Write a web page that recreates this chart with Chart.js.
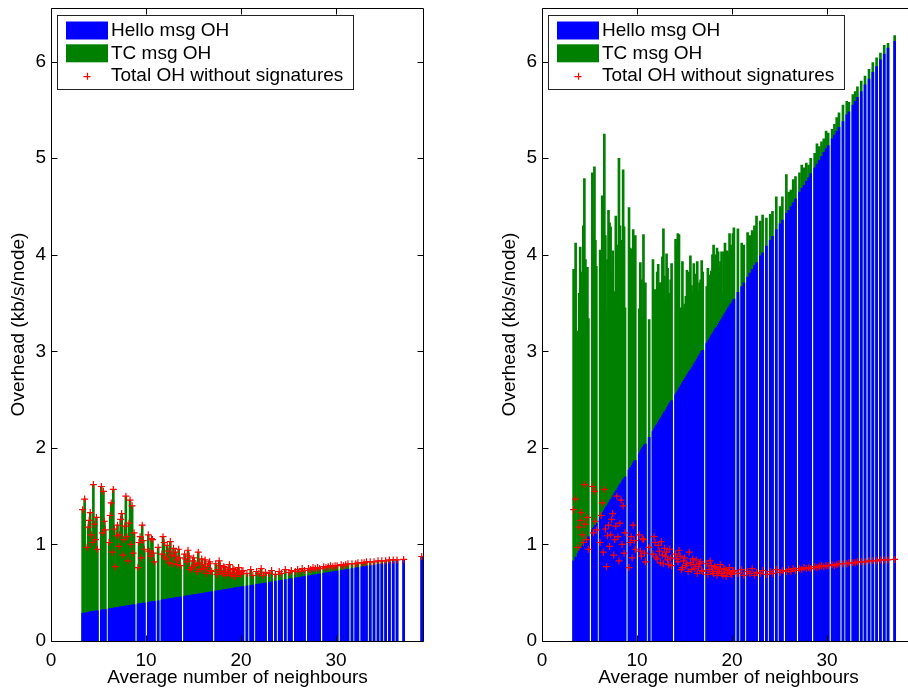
<!DOCTYPE html>
<html><head><meta charset="utf-8">
<script src="https://cdn.jsdelivr.net/npm/chart.js@4.4.1/dist/chart.umd.min.js"></script>
<style>
html,body{margin:0;padding:0;background:#fff;overflow:hidden;width:908px;height:689px;}
#wrap{position:relative;width:908px;height:689px;overflow:hidden;background:#fff;}
canvas{position:absolute;top:0;}
#c1{left:0;} #c2{left:491px;}
</style></head><body><div id="wrap"><canvas id="c1" width="440" height="689"></canvas><canvas id="c2" width="440" height="689"></canvas></div>
<script>
// Average number of neighbours for each simulation run (shared by both panels)
const neighbours = [3.33,3.54,3.80,3.91,4.02,4.13,4.24,4.35,4.46,4.57,
4.68,4.78,4.88,5.30,5.41,5.52,5.62,5.72,6.12,6.23,
6.34,6.45,6.56,6.67,6.78,6.89,7.00,7.11,7.22,7.33,
7.44,7.55,7.66,7.77,7.88,7.99,8.10,8.21,8.32,8.43,
8.54,8.64,8.74,9.16,9.27,9.38,9.49,9.60,9.71,9.82,
10.24,10.35,10.46,10.57,10.68,10.78,10.88,11.28,11.68,11.79,
11.90,12.01,12.12,12.23,12.34,12.45,12.56,12.67,12.78,12.89,
13.00,13.11,13.22,13.33,13.44,13.54,13.64,14.06,14.18,14.30,
14.42,14.54,14.66,14.78,14.90,15.02,15.14,15.26,15.38,15.50,
15.62,15.74,15.86,15.98,16.10,16.22,16.34,16.46,16.58,16.70,
16.81,16.92,17.34,17.46,17.58,17.70,17.82,17.94,18.06,18.18,
18.30,18.42,18.54,18.66,18.78,18.90,19.02,19.14,19.26,19.38,
19.50,19.62,19.74,19.86,19.98,20.09,20.20,20.62,21.02,21.24,
21.64,21.88,22.12,22.36,22.58,22.98,23.22,23.62,24.02,24.26,
24.66,25.06,25.30,25.72,25.96,26.20,26.44,26.68,27.10,27.34,
27.58,27.82,28.06,28.28,28.70,28.94,29.18,29.42,29.66,29.90,
30.12,30.54,30.78,31.02,31.26,31.68,32.08,32.30,32.72,32.96,
33.20,33.60,34.00,34.42,34.82,35.22,35.62,36.02,36.42,37.12,
39.02];

// Left panel: Hello msg OH without signatures (kb/s/node)
const helloNoSig = [0.287,0.291,0.295,0.297,0.299,0.301,0.302,0.304,0.306,0.308,
0.310,0.311,0.313,0.320,0.321,0.323,0.325,0.327,0.333,0.335,
0.337,0.338,0.340,0.342,0.344,0.346,0.347,0.349,0.351,0.353,
0.355,0.356,0.358,0.360,0.362,0.364,0.365,0.367,0.369,0.371,
0.373,0.374,0.376,0.383,0.385,0.386,0.388,0.390,0.392,0.394,
0.400,0.402,0.404,0.406,0.408,0.409,0.411,0.417,0.424,0.426,
0.428,0.429,0.431,0.433,0.435,0.437,0.438,0.440,0.442,0.444,
0.446,0.447,0.449,0.451,0.453,0.454,0.456,0.463,0.465,0.467,
0.469,0.471,0.473,0.475,0.477,0.479,0.481,0.483,0.484,0.486,
0.488,0.490,0.492,0.494,0.496,0.498,0.500,0.502,0.504,0.506,
0.508,0.510,0.517,0.518,0.520,0.522,0.524,0.526,0.528,0.530,
0.532,0.534,0.536,0.538,0.540,0.542,0.544,0.546,0.548,0.550,
0.552,0.554,0.556,0.558,0.560,0.561,0.563,0.570,0.577,0.580,
0.587,0.591,0.595,0.599,0.602,0.609,0.613,0.619,0.626,0.630,
0.636,0.643,0.647,0.654,0.657,0.661,0.665,0.669,0.676,0.680,
0.684,0.688,0.692,0.695,0.702,0.706,0.710,0.714,0.718,0.722,
0.725,0.732,0.736,0.740,0.744,0.751,0.757,0.761,0.768,0.772,
0.776,0.782,0.789,0.796,0.802,0.809,0.815,0.822,0.828,0.840,
0.865];

// Total OH without signatures = top of the green TC segment in the left panel (kb/s/node)
const totalNoSig = [1.36,1.47,0.97,1.18,1.25,1.33,1.10,1.02,1.62,1.21,
1.05,1.28,0.95,1.60,1.12,1.55,1.24,1.15,1.02,1.30,
1.43,0.92,1.57,1.16,0.77,1.09,1.20,0.98,1.10,1.26,
1.32,0.89,1.05,1.19,1.50,1.08,0.83,1.22,1.46,1.00,
1.40,0.91,1.12,0.76,1.02,1.08,0.86,1.20,1.04,0.95,
1.10,0.93,0.88,1.06,1.05,0.91,0.82,0.97,0.90,1.08,
1.02,0.87,0.85,0.99,0.93,0.81,1.03,0.89,0.80,0.96,
0.88,0.92,0.84,0.79,0.95,0.86,0.78,0.90,0.85,0.82,
0.94,0.88,0.74,0.76,0.83,0.86,0.78,0.80,0.72,0.92,
0.81,0.74,0.85,0.79,0.75,0.84,0.70,0.77,0.80,0.82,
0.73,0.72,0.80,0.69,0.74,0.83,0.78,0.72,0.70,0.77,
0.76,0.68,0.72,0.74,0.79,0.70,0.68,0.75,0.74,0.67,
0.71,0.73,0.76,0.70,0.69,0.72,0.73,0.70,0.74,0.68,
0.72,0.70,0.75,0.68,0.71,0.70,0.73,0.69,0.72,0.70,
0.74,0.71,0.73,0.72,0.74,0.72,0.75,0.73,0.75,0.74,
0.76,0.75,0.76,0.75,0.77,0.76,0.77,0.78,0.77,0.78,
0.78,0.79,0.78,0.79,0.80,0.80,0.80,0.81,0.81,0.81,
0.82,0.82,0.82,0.83,0.83,0.83,0.84,0.84,0.84,0.845,
0.875];

// Right panel: Hello msg OH with signatures (kb/s/node)
const helloSig = [0.83,0.87,0.91,0.93,0.94,0.96,0.98,1.00,1.01,1.03,
1.05,1.07,1.08,1.15,1.17,1.18,1.20,1.22,1.28,1.30,
1.32,1.33,1.35,1.37,1.39,1.40,1.42,1.44,1.46,1.47,
1.49,1.51,1.53,1.55,1.56,1.58,1.60,1.62,1.63,1.65,
1.67,1.68,1.70,1.77,1.79,1.80,1.82,1.84,1.86,1.87,
1.94,1.96,1.98,2.00,2.01,2.03,2.04,2.11,2.17,2.19,
2.21,2.23,2.24,2.26,2.28,2.30,2.31,2.33,2.35,2.37,
2.38,2.40,2.42,2.44,2.46,2.47,2.49,2.55,2.57,2.59,
2.61,2.63,2.65,2.67,2.69,2.71,2.73,2.75,2.77,2.79,
2.80,2.82,2.84,2.86,2.88,2.90,2.92,2.94,2.96,2.98,
3.00,3.01,3.08,3.10,3.12,3.14,3.16,3.18,3.20,3.22,
3.24,3.25,3.27,3.29,3.31,3.33,3.35,3.37,3.39,3.41,
3.43,3.45,3.47,3.49,3.50,3.52,3.54,3.61,3.67,3.71,
3.77,3.81,3.85,3.89,3.92,3.99,4.02,4.09,4.15,4.19,
4.26,4.32,4.36,4.43,4.46,4.50,4.54,4.58,4.65,4.69,
4.72,4.76,4.80,4.84,4.90,4.94,4.98,5.02,5.06,5.10,
5.13,5.20,5.24,5.28,5.32,5.38,5.45,5.48,5.55,5.59,
5.63,5.69,5.76,5.82,5.89,5.95,6.02,6.08,6.14,6.21,
6.56];

// Right panel: top of the green TC segment with signatures (kb/s/node)
const totalSig = [3.85,4.12,3.21,3.60,4.08,3.70,3.82,4.30,4.79,3.95,
3.48,3.87,3.34,4.85,4.17,4.91,4.15,3.88,4.05,3.41,
4.61,4.36,5.25,4.20,3.42,3.95,4.46,4.33,4.29,3.80,
4.04,3.62,3.53,4.40,4.10,3.76,5.00,4.30,4.03,4.15,
4.88,4.29,3.45,4.49,4.07,3.72,4.06,4.26,3.65,4.20,
3.44,3.92,3.74,3.36,4.21,3.68,3.71,3.33,3.95,3.46,
3.64,3.50,3.82,3.90,3.43,3.71,3.71,3.98,4.27,3.78,
3.53,4.01,3.86,3.60,3.46,3.74,3.91,4.16,4.09,4.22,
4.21,3.38,3.45,3.93,3.45,3.49,3.57,3.84,3.78,3.82,
3.99,3.68,3.60,3.91,3.80,3.64,3.93,3.62,3.71,3.74,
3.94,3.82,3.67,3.86,3.70,3.79,3.83,4.00,4.10,3.94,
4.00,4.07,4.03,3.88,3.93,4.03,3.60,4.03,4.12,3.97,
4.04,4.01,4.22,4.10,4.03,4.22,4.28,4.27,4.12,4.10,
4.23,4.20,4.25,4.30,4.40,4.35,4.41,4.38,4.42,4.45,
4.60,4.50,4.60,4.83,4.65,4.67,4.78,4.81,4.85,4.93,
4.90,4.95,4.93,5.00,5.05,5.15,5.12,5.17,5.20,5.28,
5.26,5.30,5.35,5.42,5.47,5.55,5.59,5.58,5.66,5.69,
5.74,5.80,5.85,5.92,5.99,6.04,6.09,6.17,6.19,6.27,
6.60];

const seriesNames = ['Hello msg OH', 'TC msg OH', 'Total OH without signatures'];
const xTicks = [0, 10, 20, 30];
const yTicks = [0, 1, 2, 3, 4, 5, 6];
const xTitle = 'Average number of neighbours';
const yTitle = 'Overhead (kb/s/node)';

const FONT = {family: "'Liberation Sans', Arial, Helvetica, sans-serif", size: 19};
const FONT_CSS = "19px 'Liberation Sans', Arial, Helvetica, sans-serif";

function pts(ys) { return neighbours.map((x, i) => ({x: x, y: ys[i]})); }

const framePlugin = {
  id: 'matlabFrame',
  afterDraw(chart) {
    const {ctx, chartArea: a} = chart;
    const xs = chart.scales.x, ys = chart.scales.y;
    const L = Math.round(a.left) + 0.5, R = Math.round(a.right) - 0.5;
    const T = Math.round(a.top) + 0.5, B = Math.round(a.bottom) + 0.5;
    ctx.save();
    ctx.strokeStyle = '#000';
    ctx.lineWidth = 1;
    ctx.beginPath();
    ctx.moveTo(L, T); ctx.lineTo(R, T); ctx.lineTo(R, B); ctx.lineTo(L, B); ctx.closePath();
    ys.ticks.forEach(t => {
      const py = Math.round(ys.getPixelForValue(t.value)) + 0.5;
      ctx.moveTo(L, py); ctx.lineTo(L + 6, py);
      ctx.moveTo(R, py); ctx.lineTo(R - 6, py);
    });
    xs.ticks.forEach(t => {
      const px = Math.round(xs.getPixelForValue(t.value)) + 0.5;
      ctx.moveTo(px, B); ctx.lineTo(px, B - 6);
      ctx.moveTo(px, T); ctx.lineTo(px, T + 6);
    });
    ctx.stroke();

    // legend box (MATLAB style, inside upper-left)
    const lx = Math.round(a.left) + 6.5, ly = 15.5, lw = 296, lh = 74;
    ctx.fillStyle = '#fff';
    ctx.fillRect(lx, ly, lw, lh);
    ctx.strokeStyle = '#222';
    ctx.strokeRect(lx, ly, lw, lh);
    const ds = chart.data.datasets;
    const rowsY = [30.5, 53.3, 76.2];
    ctx.font = FONT_CSS;
    ctx.textBaseline = 'middle';
    ctx.textAlign = 'left';
    ds.forEach((d, i) => {
      const cy = rowsY[i];
      if (d.type === 'bar') {
        ctx.fillStyle = d.backgroundColor;
        ctx.fillRect(a.left + 15, cy - 9, 42, 18);
      } else {
        const cx = a.left + 36;
        ctx.strokeStyle = d.borderColor;
        ctx.lineWidth = 1.2;
        ctx.beginPath();
        ctx.moveTo(cx - 3.5, cy + 0.5); ctx.lineTo(cx + 3.5, cy + 0.5);
        ctx.moveTo(cx + 0.5, cy - 3.5); ctx.lineTo(cx + 0.5, cy + 3.5);
        ctx.stroke();
      }
      ctx.fillStyle = '#000';
      ctx.fillText(d.label, a.left + 60, cy);
    });
    ctx.restore();
  }
};

function makeChart(id, hello, tcTop) {
  return new Chart(document.getElementById(id), {
    type: 'bar',
    data: {
      datasets: [
        {type: 'bar', label: seriesNames[0], data: pts(hello), backgroundColor: '#0000ff',
         barThickness: 2, grouped: false, order: 1},
        {type: 'bar', label: seriesNames[1], data: pts(tcTop), backgroundColor: '#008000',
         barThickness: 2, grouped: false, order: 2},
        {type: 'scatter', label: seriesNames[2], data: pts(totalNoSig), pointStyle: 'cross',
         pointRadius: 3.5, borderColor: '#ff0000', backgroundColor: '#ff0000',
         pointBorderWidth: 1.2, borderWidth: 1.2, showLine: false, order: 0}
      ]
    },
    options: {
      responsive: false, animation: false, devicePixelRatio: 1, events: [],
      layout: {padding: {top: 8, right: 16, bottom: 0, left: 0}},
      plugins: {legend: {display: false}, tooltip: {enabled: false}},
      scales: {
        x: {
          type: 'linear', min: 0, max: 39.26, offset: false,
          grid: {display: false, drawTicks: false}, border: {display: false},
          afterBuildTicks: s => { s.ticks = xTicks.map(v => ({value: v})); },
          ticks: {color: '#000', font: FONT, padding: 8, maxRotation: 0, autoSkip: false},
          title: {display: true, text: xTitle, color: '#000', font: FONT, padding: {top: 0, bottom: 0}},
          afterFit: s => { s.height = 48; s.paddingLeft = 0; s.paddingRight = 0; }
        },
        y: {
          type: 'linear', min: 0, max: 6.556,
          grid: {display: false, drawTicks: false}, border: {display: false},
          afterBuildTicks: s => { s.ticks = yTicks.map(v => ({value: v})); },
          ticks: {color: '#000', font: FONT, padding: 5},
          title: {display: true, text: yTitle, color: '#000', font: FONT, padding: {top: 7, bottom: 0}},
          afterFit: s => { s.width = 51; s.paddingTop = 0; s.paddingBottom = 0; }
        }
      }
    },
    plugins: [framePlugin]
  });
}

makeChart('c1', helloNoSig, totalNoSig);
makeChart('c2', helloSig, totalSig);
</script>
</body></html>
